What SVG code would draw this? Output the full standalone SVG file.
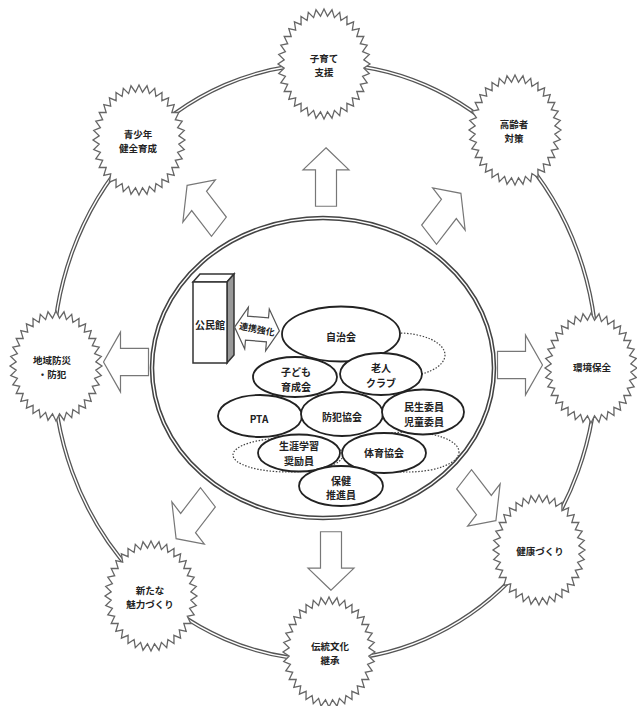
<svg xmlns="http://www.w3.org/2000/svg" xmlns:xlink="http://www.w3.org/1999/xlink" width="637" height="706" viewBox="0 0 637 706">
<style>
.t{font-family:"Noto Sans CJK JP","Noto Sans",sans-serif;font-weight:bold;fill:#222;text-anchor:middle;dominant-baseline:central}
.s{font-size:9.5px}
.e{font-size:10px}
.star{fill:#fff;stroke:#666;stroke-width:1.3}
.org{fill:#fff;stroke:#222;stroke-width:1.8}
.dot{fill:none;stroke:#444;stroke-width:1.2;stroke-dasharray:1.5 1.6}
.arr{fill:#fff;stroke:#777;stroke-width:1.2}
</style>
<defs>
<path id="burst" d="M46,0 L39.8,4.2 L45.3,9.5 L38.6,12.4 L43.2,18.8 L36.3,20.3 L39.8,27.5 L32.8,27.5 L35.2,35.4 L28.3,33.9 L29.6,42.1 L22.9,39.3 L23,47.6 L16.9,43.5 L15.7,51.7 L10.4,46.4 L8,54.2 L3.5,47.8 L0,55 L-3.5,47.8 L-8,54.2 L-10.4,46.4 L-15.7,51.7 L-16.9,43.5 L-23,47.6 L-22.9,39.3 L-29.6,42.1 L-28.3,33.9 L-35.2,35.4 L-32.8,27.5 L-39.8,27.5 L-36.3,20.3 L-43.2,18.8 L-38.6,12.4 L-45.3,9.5 L-39.8,4.2 L-46,0 L-39.8,-4.2 L-45.3,-9.5 L-38.6,-12.4 L-43.2,-18.8 L-36.3,-20.3 L-39.8,-27.5 L-32.8,-27.5 L-35.2,-35.4 L-28.3,-33.9 L-29.6,-42.1 L-22.9,-39.3 L-23,-47.6 L-16.9,-43.5 L-15.7,-51.7 L-10.4,-46.4 L-8,-54.2 L-3.5,-47.8 L0,-55 L3.5,-47.8 L8,-54.2 L10.4,-46.4 L15.7,-51.7 L16.9,-43.5 L23,-47.6 L22.9,-39.3 L29.6,-42.1 L28.3,-33.9 L35.2,-35.4 L32.8,-27.5 L39.8,-27.5 L36.3,-20.3 L43.2,-18.8 L38.6,-12.4 L45.3,-9.5 L39.8,-4.2 Z"/>
<path id="arr" class="arr" vector-effect="non-scaling-stroke" d="M0,-22.5 L23,-5.5 L10.5,-5.5 L10.5,22.5 L-10.5,22.5 L-10.5,-5.5 L-23,-5.5 Z"/>
</defs>
<rect width="637" height="706" fill="#fff"/>

<g id="connectors">
<ellipse cx="325" cy="362" rx="272" ry="298" fill="none" stroke="#555" stroke-width="4"/>
<ellipse cx="325" cy="362" rx="272" ry="298" fill="none" stroke="#fff" stroke-width="1.4"/>
</g>

<g id="arrows">
<use xlink:href="#arr" href="#arr" transform="translate(326,177) scale(1,1.3)"/>
<use xlink:href="#arr" href="#arr" transform="translate(203,206) scale(1,1.3) rotate(-45)"/>
<use xlink:href="#arr" href="#arr" transform="translate(445,214) scale(1,1.3) rotate(45)"/>
<use xlink:href="#arr" href="#arr" transform="translate(126,362) scale(1,1.3) rotate(-90)"/>
<use xlink:href="#arr" href="#arr" transform="translate(520,365) scale(1,1.3) rotate(90)"/>
<use xlink:href="#arr" href="#arr" transform="translate(480,500) scale(1,1.3) rotate(135)"/>
<use xlink:href="#arr" href="#arr" transform="translate(331,561) scale(1,1.3) rotate(180)"/>
<use xlink:href="#arr" href="#arr" transform="translate(192,518) scale(1,1.3) rotate(-135)"/>
</g>

<g id="n-kosodate"><use xlink:href="#burst" href="#burst" class="star" transform="translate(324,64)"/><text class="t s" x="324" y="58">子育て</text><text class="t s" x="324" y="72">支援</text></g>
<g id="n-seishonen"><use xlink:href="#burst" href="#burst" class="star" transform="translate(139,140)"/><text class="t s" x="138" y="134">青少年</text><text class="t s" x="138" y="148">健全育成</text></g>
<g id="n-koreisha"><use xlink:href="#burst" href="#burst" class="star" transform="translate(515,130)"/><text class="t s" x="514" y="124">高齢者</text><text class="t s" x="514" y="138">対策</text></g>
<g id="n-bosai"><use xlink:href="#burst" href="#burst" class="star" transform="translate(56,366)"/><text class="t s" x="52" y="360">地域防災</text><text class="t s" x="52" y="374">・防犯</text></g>
<g id="n-kankyo"><use xlink:href="#burst" href="#burst" class="star" transform="translate(591,368)"/><text class="t s" x="592" y="367">環境保全</text></g>
<g id="n-miryoku"><use xlink:href="#burst" href="#burst" class="star" transform="translate(151,596)"/><text class="t s" x="150" y="590">新たな</text><text class="t s" x="150" y="604">魅力づくり</text></g>
<g id="n-dento"><use xlink:href="#burst" href="#burst" class="star" transform="translate(329,652)"/><text class="t s" x="330" y="646">伝統文化</text><text class="t s" x="330" y="660">継承</text></g>
<g id="n-kenko"><use xlink:href="#burst" href="#burst" class="star" transform="translate(539,550)"/><text class="t s" x="540" y="551">健康づくり</text></g>

<g id="n-center">
<ellipse cx="323" cy="368" rx="171" ry="150" fill="none" stroke="#444" stroke-width="4.5"/>
<ellipse cx="323" cy="368" rx="171" ry="150" fill="none" stroke="#fff" stroke-width="1.4"/>
</g>

<g id="n-kominkan">
<polygon points="193,282 200,274 234,274 227,282" fill="#fff" stroke="#333" stroke-width="1.5"/>
<polygon points="227,282 234,274 234,355 227,363" fill="#999" stroke="#333" stroke-width="1.5"/>
<rect x="193" y="282" width="34" height="81" fill="#fff" stroke="#333" stroke-width="1.5"/>
<text class="t e" x="210" y="324">公民館</text>
</g>

<g id="n-renkei" transform="translate(257,329) rotate(5)">
<path d="M-22.5,0 L-10.5,-21 L-10.5,-12 L10.5,-12 L10.5,-21 L22.5,0 L10.5,21 L10.5,12 L-10.5,12 L-10.5,21 Z" fill="#fff" stroke="#555" stroke-width="1.2"/>
<text class="t" style="font-size:9px" x="0" y="0" transform="rotate(6)">連携強化</text>
</g>

<g id="dotted">
<ellipse class="dot" cx="398" cy="355" rx="47" ry="22"/>
<ellipse class="dot" cx="288" cy="455" rx="55" ry="17"/>
<ellipse class="dot" cx="408" cy="452" rx="51" ry="20"/>
</g>

<g id="n-jichikai"><ellipse class="org" cx="341" cy="334" rx="59" ry="27.5"/><text class="t e" x="341" y="336">自治会</text></g>
<g id="n-kodomo"><ellipse class="org" cx="295" cy="377" rx="42" ry="20"/><text class="t e" x="296" y="371">子ども</text><text class="t e" x="296" y="386">育成会</text></g>
<g id="n-rojin"><ellipse class="org" cx="381" cy="374" rx="41" ry="21"/><text class="t e" x="381" y="367">老人</text><text class="t e" x="381" y="382">クラブ</text></g>
<g id="n-pta"><ellipse class="org" cx="260" cy="416" rx="42" ry="21"/><text class="t e" x="259" y="418">PTA</text></g>
<g id="n-bohan"><ellipse class="org" cx="342" cy="414" rx="41" ry="22"/><text class="t e" x="342" y="416">防犯協会</text></g>
<g id="n-minsei"><ellipse class="org" cx="423" cy="412" rx="41" ry="22.5"/><text class="t e" x="424" y="406">民生委員</text><text class="t e" x="424" y="421">児童委員</text></g>
<g id="n-shogai"><ellipse class="org" cx="299" cy="453" rx="41" ry="18.5"/><text class="t e" x="299" y="445">生涯学習</text><text class="t e" x="299" y="460">奨励員</text></g>
<g id="n-taiiku"><ellipse class="org" cx="384" cy="453" rx="42" ry="20"/><text class="t e" x="384" y="452">体育協会</text></g>
<g id="n-hoken"><ellipse class="org" cx="341" cy="486" rx="42" ry="20"/><text class="t e" x="341" y="480">保健</text><text class="t e" x="341" y="494">推進員</text></g>
</svg>
